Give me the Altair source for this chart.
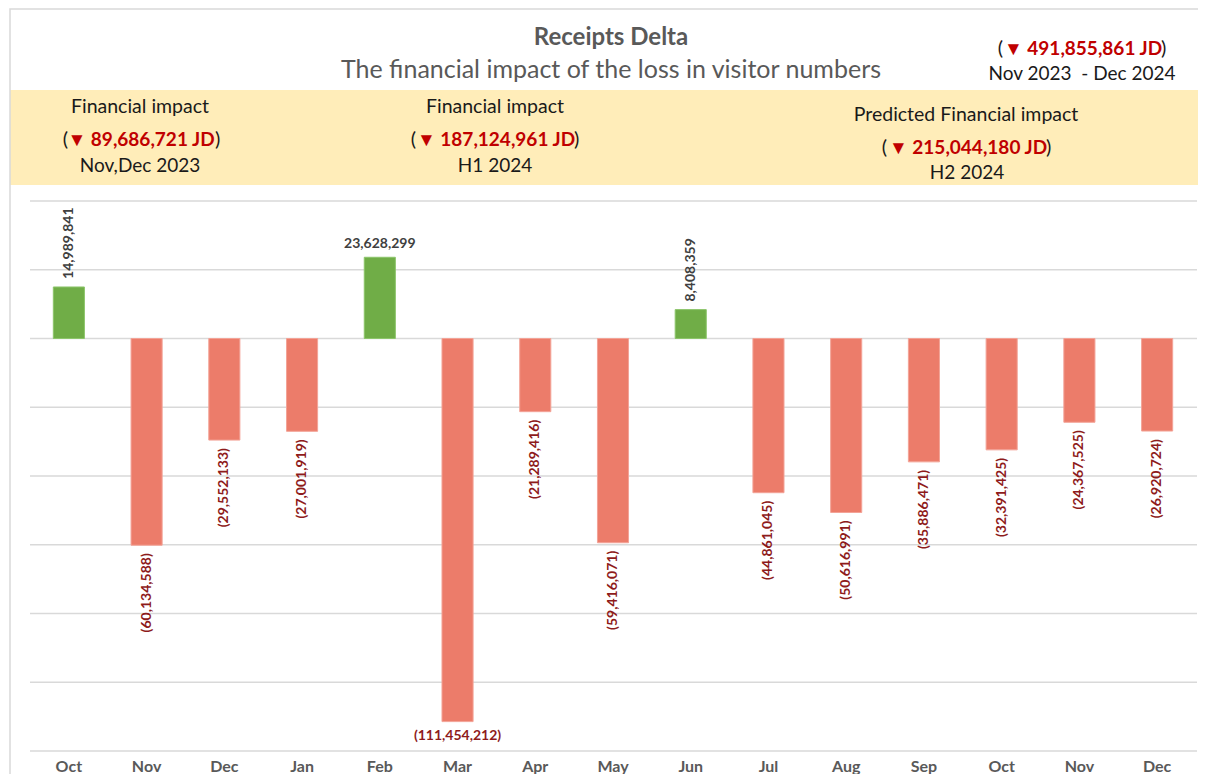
import altair as alt
import pandas as pd

# ---------------- data ----------------
months = ["Oct", "Nov", "Dec", "Jan", "Feb", "Mar", "Apr", "May", "Jun",
          "Jul", "Aug", "Sep", "Oct", "Nov", "Dec"]
deltas = [14989841, -60134588, -29552133, -27001919, 23628299, -111454212,
          -21289416, -59416071, 8408359, -44861045, -50616991, -35886471,
          -32391425, -24367525, -26920724]
grid_values = [40e6, 20e6, 0, -20e6, -40e6, -60e6, -80e6, -100e6, -120e6]

title_text = "Receipts Delta"
subtitle_text = "The financial impact of the loss in visitor numbers"
total_amount = "491,855,861"
total_period = "Nov 2023 \u00a0- Dec 2024"
period_headers = ["Financial impact", "Financial impact", "Predicted Financial impact"]
period_amounts = ["89,686,721", "187,124,961", "215,044,180"]
period_names = ["Nov,Dec 2023", "H1 2024", "H2 2024"]

FLAT = [4, 5]  # bars whose labels are drawn horizontally

FONT = "Lato"
W, H = 1190, 766

df = pd.DataFrame({"idx": list(range(len(months))), "month": months, "delta": deltas})

xs = alt.Scale(range=[22, 1188], paddingInner=0.6, paddingOuter=0.3)
ys = alt.Scale(domain=[-120e6, 40e6], range=[743, 193], nice=False, zero=False)
X = alt.X("idx:O", scale=xs, axis=None)
Y = alt.Y("delta:Q", scale=ys, axis=None)

base = alt.Chart(df).transform_calculate(
    lbl="datum.delta < 0 ? '(' + format(-datum.delta, ',') + ')' : format(datum.delta, ',')",
    flat="indexof(" + str(FLAT) + ", datum.idx) >= 0"
)

one = pd.DataFrame({"a": [0]})

band = alt.Chart(one).mark_rect(color="#FFEDB9").encode(
    x=alt.value(2), x2=alt.value(W), y=alt.value(82), y2=alt.value(177))
border = alt.Chart(one).mark_rect(fill=None, stroke="#D9D9D9", strokeWidth=1.5).encode(
    x=alt.value(2), x2=alt.value(W + 10), y=alt.value(1), y2=alt.value(H + 10))

grid = alt.Chart(pd.DataFrame({"delta": grid_values})).mark_rule(
    color="#D9D9D9", strokeWidth=1.5).encode(
    y=Y, x=alt.value(22), x2=alt.value(1189))

bars = base.mark_bar(strokeWidth=1).encode(
    x=X, y=Y, y2=alt.datum(0),
    color=alt.condition("datum.delta >= 0", alt.value("#70AD47"), alt.value("#EC7C6A")),
    stroke=alt.condition("datum.delta >= 0", alt.value("#8CC56A"), alt.value("#F3A397")))

lab_common = dict(font=FONT, fontSize=14, fontWeight="bold")
pos_vert = base.transform_filter("datum.delta >= 0 && !datum.flat").mark_text(
    angle=270, align="left", baseline="middle", yOffset=-8, color="#404040", **lab_common
).encode(x=X, y=Y, text="lbl:N")
neg_vert = base.transform_filter("datum.delta < 0 && !datum.flat").mark_text(
    angle=270, align="right", baseline="middle", yOffset=8, color="#8E1B1B", **lab_common
).encode(x=X, y=Y, text="lbl:N")
pos_flat = base.transform_filter("datum.delta >= 0 && datum.flat").mark_text(
    align="center", baseline="bottom", yOffset=-6, color="#404040", **lab_common
).encode(x=X, y=Y, text="lbl:N")
neg_flat = base.transform_filter("datum.delta < 0 && datum.flat").mark_text(
    align="center", baseline="top", yOffset=7, color="#8E1B1B", **lab_common
).encode(x=X, y=Y, text="lbl:N")

month_labels = base.mark_text(font=FONT, fontSize=16, fontWeight="bold", color="#595959",
                              baseline="middle").encode(
    x=X, y=alt.value(759), text="month:N")


def txt(s, x, y, size, color="#1A1A1A", weight="normal", align="center"):
    return alt.Chart(pd.DataFrame({"t": [s]})).mark_text(
        font=FONT, fontSize=size, fontWeight=weight, color=color,
        align=align, baseline="middle").encode(
        x=alt.value(x), y=alt.value(y), text="t:N")


def amount(s, cx, y, lx, rx, size=19):
    return [
        txt("(", lx, y, size + 1, color="#1A1A1A", align="right"),
        txt("\u25BC " + s + " JD", cx, y, size, color="#C00000", weight="bold"),
        txt(")", rx, y, size + 1, color="#1A1A1A", align="left"),
    ]


ann = [
    txt(title_text, 603, 30, 24, color="#595959", weight="bold"),
    txt(subtitle_text, 603, 62, 25, color="#595959"),
]
ann += amount(total_amount, 1075, 41, 995, 1153)
ann.append(txt(total_period, 1074, 66, 19))

centers = [132, 487, 958]
ys_head = [99, 99, 107]
for i in range(3):
    ann.append(txt(period_headers[i], centers[i], ys_head[i], 19.5))
ann += amount(period_amounts[0], 133, 132, 60, 207)
ann += amount(period_amounts[1], 488, 132, 408, 566)
ann += amount(period_amounts[2], 960, 140, 879, 1038)
ann.append(txt(period_names[0], 132, 158, 19))
ann.append(txt(period_names[1], 487, 158, 19))
ann.append(txt(period_names[2], 959, 165, 19))

chart = alt.layer(
    band, border, grid, bars, pos_vert, neg_vert, pos_flat, neg_flat, month_labels, *ann
).properties(
    width=W, height=H, autosize=alt.AutoSizeParams(type="none"), padding=0,
    background="white"
).configure_view(stroke=None)

chart.save("out.html", embed_options={"renderer": "svg", "actions": False})
